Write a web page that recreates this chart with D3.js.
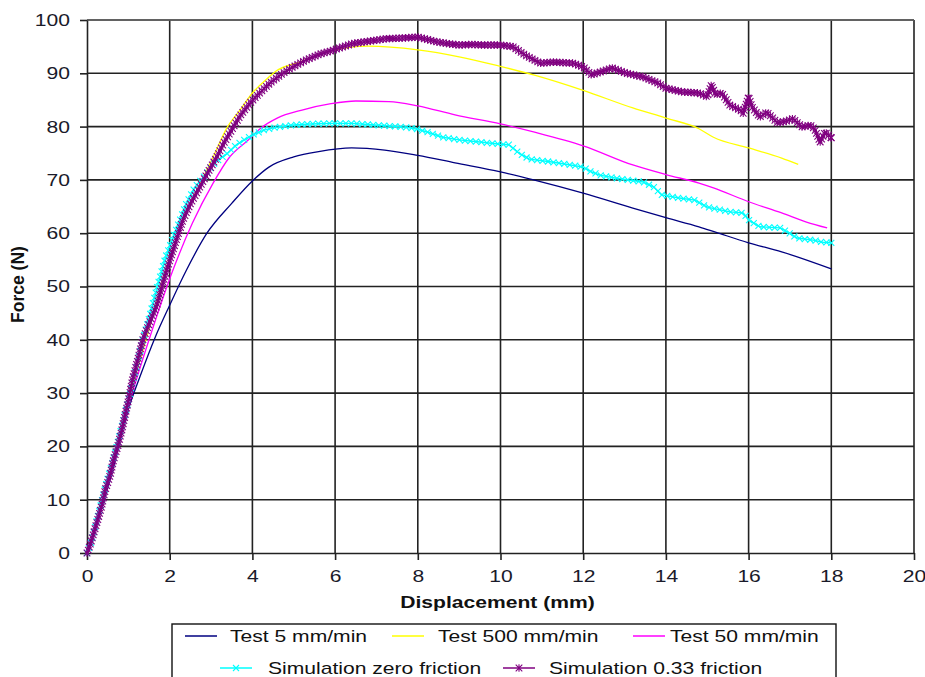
<!DOCTYPE html>
<html>
<head>
<meta charset="utf-8">
<title>Force vs displacement</title>
<script src="https://cdn.jsdelivr.net/npm/d3@7"></script>
<style>
  body { margin: 0; background: #fff; }
  svg { display: block; font-family: "Liberation Sans", Arial, sans-serif; }
</style>
</head>
<body>
<svg id="drawing_region"></svg>
<script>
// each point: [displacement (mm), force (N)]
const test5 = [[0,0],[0.3,7],[0.6,15],[1.0,27],[1.3,33.5],[1.65,40.5],[2.0,46.5],[2.4,53],[2.9,60],[3.5,65.6],[4.0,69.8],
  [4.4,72.4],[5.0,74.3],[5.6,75.3],[6.4,76],[7.2,75.6],[8.0,74.6],[8.9,73.2],[10,71.5],[10.8,70],[12,67.5],
  [13.2,64.7],[14,62.9],[14.8,61.2],[15.2,60.2],[16,58.2],[16.8,56.5],[18,53.3]];

const test500 = [[0,0],[0.5,13.5],[1.0,28.5],[1.5,42],[2.0,55.5],[2.5,65.5],[2.75,69.5],[3.05,74.3],[3.4,80],
  [3.7,83.1],[4.0,86.3],[4.4,89.3],[4.55,90.3],[5.15,92.1],[5.9,94.2],[6.8,95.1],[8,94.4],[9,93.1],[10,91.3],
  [10.8,89.7],[12,86.8],[13.2,83.5],[14,81.6],[14.8,79.6],[15.15,78],[16,76],[16.8,74.1],[17.2,72.9]];

const test50 = [[0,0],[0.5,13],[1.0,27.5],[1.5,40],[2.1,53.5],[2.55,61.9],[3.05,69.4],[3.45,74.3],[3.9,77.5],
  [4.2,79.7],[4.6,81.6],[5.2,83.1],[5.9,84.3],[6.5,84.8],[7.3,84.7],[8,83.9],[8.9,82.2],[10,80.5],[10.8,79],
  [12,76.4],[13.2,72.8],[14,71],[14.8,69.4],[15.15,68.5],[16,65.9],[16.8,63.8],[17.4,62.1],[17.9,61]];

const simZero = [[0,0],[0.1,2],[0.2,5],[0.3,8],[0.4,11],[0.5,14],[0.6,16.5],[0.7,19.5],[0.8,22.5],[0.9,25.5],
  [1.0,28.5],[1.1,32],[1.2,35],[1.35,40],[1.5,44],[1.7,50],[1.9,55.5],[2.1,59.5],[2.4,65.5],[2.6,68.5],[2.9,71.3],
  [3.1,73.3],[3.4,75],[3.6,76.5],[3.8,77.5],[4.05,78.6],[4.3,79.4],[4.6,79.9],[5.0,80.3],[5.4,80.5],[5.9,80.6],
  [6.4,80.6],[6.8,80.4],[7.3,80.1],[7.7,79.9],[8,79.5],[8.3,78.8],[8.6,78],[9,77.5],[9.5,77.1],[10,76.7],
  [10.2,76.6],[10.45,75],[10.7,73.9],[11.2,73.4],[11.7,72.8],[12,72.4],[12.2,71.5],[12.4,70.9],[12.8,70.3],
  [13.45,69.6],[13.7,68.7],[13.9,67.2],[14.4,66.5],[14.7,66.2],[15,64.9],[15.55,64],[15.87,63.8],[16,62.5],
  [16.27,61.2],[16.76,61],[16.95,60.2],[17.17,59.1],[17.56,58.7],[17.8,58.3],[18,58.2]];

const simFriction = [[0,0],[0.03,0.5],[0.15,3.4],[0.27,6.5],[0.36,9],[0.44,11.8],[0.56,14.6],[0.64,17.4],
  [0.75,20.2],[0.84,23],[0.93,26.2],[1.02,29.3],[1.1,32.5],[1.22,36],[1.35,40],[1.5,43],[1.69,46.5],[1.85,51],
  [1.98,54.4],[2.15,58.5],[2.32,62.5],[2.5,65.5],[2.73,68.7],[2.93,71.5],[3.14,74.3],[3.3,76.8],[3.5,79.4],
  [3.7,82],[3.94,84.4],[4.2,86.5],[4.43,88.2],[4.7,89.8],[4.98,91.2],[5.3,92.5],[5.63,93.6],[5.9,94.2],[6.2,95],
  [6.44,95.6],[6.8,96],[7.25,96.5],[7.6,96.6],[8,96.8],[8.2,96.4],[8.46,95.9],[8.78,95.5],[9.0,95.3],[9.3,95.4],
  [9.6,95.3],[10,95.3],[10.3,95],[10.6,93.4],[10.96,91.9],[11.27,92.1],[11.75,91.9],[12,91.2],[12.2,89.7],
  [12.4,90.2],[12.7,91],[13.05,90],[13.45,89.3],[13.8,88.2],[14,87.2],[14.4,86.5],[14.8,86.3],[15,85.6],
  [15.1,87.8],[15.2,86],[15.35,86.3],[15.55,84],[15.8,83.1],[15.87,82.5],[16,85.6],[16.08,83.7],[16.27,81.8],
  [16.44,82.7],[16.7,80.7],[16.9,81],[17.07,81.5],[17.3,79.9],[17.49,80.3],[17.6,79.5],[17.73,77.1],[17.85,79],
  [18,77.9]];

const xTicks = [0, 2, 4, 6, 8, 10, 12, 14, 16, 18, 20];
const yTicks = [0, 10, 20, 30, 40, 50, 60, 70, 80, 90, 100];

const seriesNames = ["Test 5 mm/min", "Test 500 mm/min", "Test 50 mm/min",
                     "Simulation zero friction", "Simulation 0.33 friction"];
const seriesColors = ["#000080", "#ffff00", "#ff00ff", "#00ffff", "#800080"];

// marker glyphs (Excel style)
const markerX = "M-3,-3L3,3M-3,3L3,-3";
const markerStar = "M-3.3,-3.3L3.3,3.3M-3.3,3.3L3.3,-3.3M0,-3.8L0,3.8";

var config = {
    parent: '#drawing_region',
    width: 925,
    height: 677,
    margin: {top:20, right:11, bottom:124, left:87},
    stretch: 1.24
};

const series = [
    {name: seriesNames[0], color: seriesColors[0], values: test5, smooth: true},
    {name: seriesNames[1], color: seriesColors[1], values: test500, smooth: true},
    {name: seriesNames[2], color: seriesColors[2], values: test50, smooth: true},
    {name: seriesNames[3], color: seriesColors[3], values: simZero, marker: markerX, step: 5.5},
    {name: seriesNames[4], color: seriesColors[4], values: simFriction, marker: markerStar, step: 3.2}
];

class ForceChart {
    constructor( config, series ){
        this.config = config;
        this.series = series;
        this.init();
    }

    init(){
        let self = this;

        self.svg = d3.select( self.config.parent )
                     .attr('width', self.config.width)
                     .attr('height', self.config.height);

        self.chart = self.svg.append('g')
                         .attr('transform', `translate(${self.config.margin.left}, ${self.config.margin.top})`);

        self.inner_width = self.config.width - self.config.margin.left - self.config.margin.right;
        self.inner_height = self.config.height - self.config.margin.top - self.config.margin.bottom;

        self.xscale = d3.scaleLinear()
                        .domain([0, 20])
                        .range([0, self.inner_width]);

        self.yscale = d3.scaleLinear()
                        .domain([0, 100])
                        .range([self.inner_height, 0]);

        self.xaxis = d3.axisBottom( self.xscale )
                       .tickValues(xTicks)
                       .tickSize(7)
                       .tickSizeOuter(0)
                       .tickPadding(10);

        self.yaxis = d3.axisLeft( self.yscale )
                       .tickValues(yTicks)
                       .tickSize(7)
                       .tickSizeOuter(0)
                       .tickPadding(10);
    }

    render(){
        let self = this;

        // grid
        self.chart.append('g')
            .selectAll('line')
            .data(yTicks.filter(d => d > 0))
            .join('line')
            .attr('x1', 0).attr('x2', self.inner_width)
            .attr('y1', d => self.yscale(d)).attr('y2', d => self.yscale(d))
            .attr('stroke', '#222').attr('stroke-width', 1.6);

        self.chart.append('g')
            .selectAll('line')
            .data(xTicks.filter(d => d > 0))
            .join('line')
            .attr('x1', d => self.xscale(d)).attr('x2', d => self.xscale(d))
            .attr('y1', 0).attr('y2', self.inner_height)
            .attr('stroke', '#222').attr('stroke-width', 1.6);

        self.chart.append('line')
            .attr('x1', 0).attr('x2', self.inner_width)
            .attr('y1', 0).attr('y2', 0)
            .attr('stroke', '#666').attr('stroke-width', 1.6);

        // axes
        const xg = self.chart.append('g')
            .attr('transform', `translate(0, ${self.inner_height})`)
            .call(self.xaxis);
        const yg = self.chart.append('g')
            .call(self.yaxis);

        [xg, yg].forEach(g => {
            g.selectAll('path, line').attr('stroke', '#222').attr('stroke-width', 1.6);
            g.selectAll('text')
             .attr('font-size', 17)
             .attr('fill', '#1a1a2a')
             .attr('class', 'stretch');
        });

        // lines
        const smoothLine = d3.line()
            .x(d => self.xscale(d[0]))
            .y(d => self.yscale(d[1]))
            .curve(d3.curveMonotoneX);
        const plainLine = d3.line()
            .x(d => self.xscale(d[0]))
            .y(d => self.yscale(d[1]));

        self.series.forEach(s => {
            const path = self.chart.append('path')
                .datum(s.values)
                .attr('fill', 'none')
                .attr('stroke', s.color)
                .attr('stroke-width', s.marker ? 1.4 : 1.3)
                .attr('d', s.smooth ? smoothLine : plainLine);

            if (s.marker) {
                // excel-like dense markers spread along the drawn series
                const node = path.node();
                const total = node.getTotalLength();
                const spots = d3.range(0, total, s.step).map(l => node.getPointAtLength(l));
                spots.push(node.getPointAtLength(total));
                self.chart.append('g')
                    .selectAll('path')
                    .data(spots)
                    .join('path')
                    .attr('transform', p => `translate(${p.x},${p.y})`)
                    .attr('d', s.marker)
                    .attr('fill', 'none')
                    .attr('stroke', s.color)
                    .attr('stroke-width', 1.1);
            }
        });

        // axis titles
        self.svg.append('text')
            .attr('x', self.config.margin.left + self.inner_width / 2 - 3)
            .attr('y', 608)
            .attr('text-anchor', 'middle')
            .attr('font-size', 17)
            .attr('font-weight', 'bold')
            .attr('fill', '#111')
            .attr('class', 'stretch')
            .text('Displacement (mm)');

        self.svg.append('text')
            .attr('transform', `translate(24, ${self.config.margin.top + self.inner_height / 2 - 2}) rotate(-90)`)
            .attr('text-anchor', 'middle')
            .attr('font-size', 17.5)
            .attr('font-weight', 'bold')
            .attr('fill', '#111')
            .text('Force (N)');

        // legend
        const legend = self.svg.append('g');
        legend.append('rect')
            .attr('x', 172).attr('y', 624)
            .attr('width', 664).attr('height', 80)
            .attr('fill', '#fff')
            .attr('stroke', '#111').attr('stroke-width', 1.4);

        const slots = [
            {x: 185, y: 636}, {x: 392, y: 636}, {x: 633, y: 636},
            {x: 220, y: 668}, {x: 503, y: 668}
        ];
        const textGap = [13, 14, 5, 16, 14];

        self.series.forEach((s, i) => {
            const g = legend.append('g')
                .attr('transform', `translate(${slots[i].x}, ${slots[i].y})`);
            g.append('line')
                .attr('x1', 0).attr('x2', 32)
                .attr('stroke', s.color).attr('stroke-width', 1.5);
            if (s.marker) {
                g.append('path')
                    .attr('transform', 'translate(16,0)')
                    .attr('d', s.marker)
                    .attr('fill', 'none')
                    .attr('stroke', s.color).attr('stroke-width', 1.1);
            }
            g.append('text')
                .attr('x', 32 + textGap[i])
                .attr('y', 6)
                .attr('font-size', 17)
                .attr('fill', '#111')
                .attr('class', 'stretch')
                .text(s.name);
        });

        // the source picture is widened horizontally; widen the glyphs the same way
        self.svg.selectAll('text.stretch').each(function(){
            const w = this.getComputedTextLength();
            d3.select(this)
              .attr('textLength', w * self.config.stretch)
              .attr('lengthAdjust', 'spacingAndGlyphs');
        });
    }
}

const force_chart = new ForceChart( config, series );
force_chart.render();
</script>
</body>
</html>
